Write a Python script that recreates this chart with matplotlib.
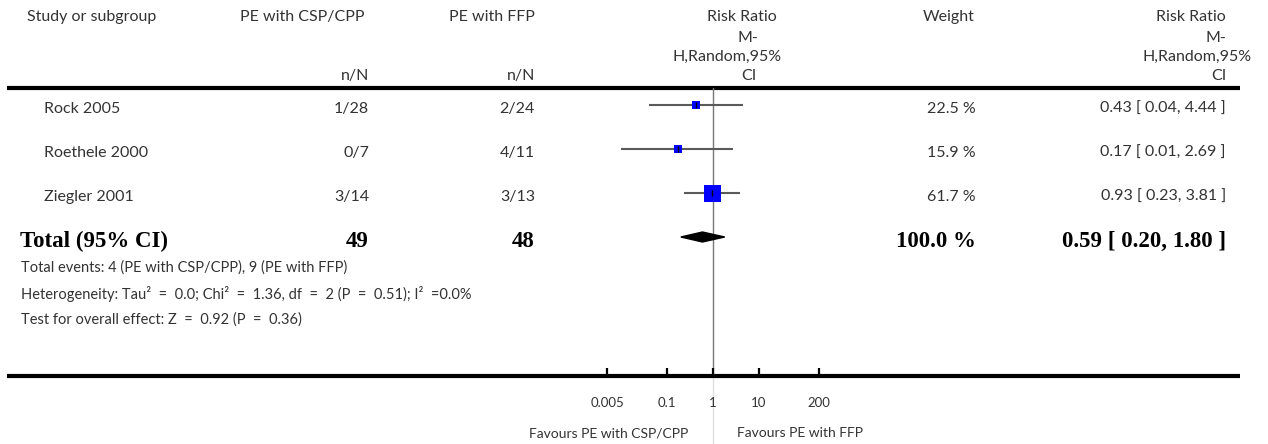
import matplotlib
matplotlib.use("Agg")
import matplotlib.pyplot as plt
import numpy as np
from matplotlib.patches import Polygon
from matplotlib.ticker import NullLocator, FixedLocator, FixedFormatter
from matplotlib.transforms import blended_transform_factory

# ---------------- data ----------------
studies = ["Rock 2005", "Roethele 2000", "Ziegler 2001"]
csp_events = ["1/28", "0/7", "3/14"]
ffp_events = ["2/24", "4/11", "3/13"]
rr = [0.43, 0.17, 0.93]
ci_low = [0.04, 0.01, 0.23]
ci_high = [4.44, 2.69, 3.81]
weights = [22.5, 15.9, 61.7]

total_label = "Total (95% CI)"
total_csp_n = 49
total_ffp_n = 48
total_rr = 0.59
total_low = 0.20
total_high = 1.80
total_weight = 100.0

footnotes = [
    "Total events: 4 (PE with CSP/CPP), 9 (PE with FFP)",
    "Heterogeneity: Tau\u00b2 = 0.0; Chi\u00b2 = 1.36, df = 2 (P = 0.51); I\u00b2 =0.0%",
    "Test for overall effect: Z = 0.92 (P = 0.36)",
]
tick_values = [0.005, 0.1, 1, 10, 200]
tick_labels = ["0.005", "0.1", "1", "10", "200"]
favours_left = "Favours PE with CSP/CPP"
favours_right = "Favours PE with FFP"

# ---------------- layout ----------------
W, H = 1268, 444
FONT = "Lato"
BOLD = "Liberation Serif"
TXT = "#333333"
FS = 11.5
row_top, row_h = 105, 44          # pixel y of first row (marks) and row spacing
txt_off = 4                       # text sits slightly below the marks
head_line, axis_line = 88, 376
ref_x, px_per_dec = 713, 46       # pixel x of RR=1, pixels per decade

fig = plt.figure(figsize=(W / 100, H / 100), dpi=100)
ov = fig.add_axes([0, 0, 1, 1])
ov.set_xlim(0, W)
ov.set_ylim(H, 0)
ov.axis("off")

# forest axes
fx0, fx1 = 560, 880
fa = fig.add_axes([fx0 / W, (H - axis_line) / H, (fx1 - fx0) / W, (axis_line - head_line) / H])
fa.set_xscale("log")
fa.set_xlim(10 ** ((fx0 - ref_x) / px_per_dec), 10 ** ((fx1 - ref_x) / px_per_dec))
fa.set_ylim((axis_line - row_top) / row_h, (head_line - row_top) / row_h)
for s in fa.spines.values():
    s.set_visible(False)
fa.patch.set_alpha(0)
fa.yaxis.set_visible(False)
fa.xaxis.set_major_locator(FixedLocator(tick_values))
fa.xaxis.set_major_formatter(FixedFormatter(tick_labels))
fa.xaxis.set_minor_locator(NullLocator())
fa.tick_params(axis="x", direction="in", length=6, width=1.6, color="black",
               pad=15, labelsize=9.5, labelcolor=TXT)
for lab in fa.get_xticklabels():
    lab.set_fontfamily(FONT)

# reference line
fa.axvline(1, color="#777777", lw=1.0, zorder=1)
tr = blended_transform_factory(fa.transData, ov.transData)
ov.plot([1, 1], [axis_line, H], transform=tr, color="#e0e0e0", lw=1.0, zorder=0)

# study rows
for i, (r, lo, hi, w) in enumerate(zip(rr, ci_low, ci_high, weights)):
    fa.plot([lo, hi], [i, i], color="#5a5a5a", lw=1.5, zorder=2, solid_capstyle="butt")
    side_px = max(8.0, 17.0 * w / max(weights))
    fa.plot([r], [i], marker="s", ms=side_px * 0.72, color="#0000ff",
            mec="#0000ff", mew=0, zorder=3, linestyle="none")
    fa.plot([r], [i], marker="|", ms=4, mew=1.0, color="black", zorder=4, linestyle="none")

# total diamond
ti = len(studies)
dh = 5.0 / row_h
fa.add_patch(Polygon([(total_low, ti), (total_rr, ti - dh), (total_high, ti), (total_rr, ti + dh)],
                     closed=True, color="black", zorder=3))

# lines
ov.plot([7, 1240], [head_line, head_line], color="black", lw=3.0, solid_capstyle="butt")
ov.plot([7, 1240], [axis_line, axis_line], color="black", lw=3.0, solid_capstyle="butt")

def t(x, y, s, ha="left", **kw):
    kw.setdefault("fontsize", FS)
    kw.setdefault("family", FONT)
    kw.setdefault("color", TXT)
    ov.text(x, y, s, ha=ha, va="center", **kw)

# headers
t(27, 17, "Study or subgroup")
t(302, 17, "PE with CSP/CPP", ha="center")
t(492, 17, "PE with FFP", ha="center")
t(369, 76, "n/N", ha="right")
t(535, 76, "n/N", ha="right")
t(742, 17, "Risk Ratio", ha="center")
t(748, 38, "M-", ha="center")
t(727, 57, "H,Random,95%", ha="center")
t(749, 76, "CI", ha="center")
t(949, 17, "Weight", ha="center")
t(1226, 17, "Risk Ratio", ha="right")
t(1226, 38, "M-", ha="right")
t(1252, 57, "H,Random,95%", ha="right")
t(1226, 76, "CI", ha="right")

# rows text
for i, name in enumerate(studies):
    y = row_top + i * row_h + txt_off
    t(44, y, name)
    t(369, y, csp_events[i], ha="right")
    t(535, y, ffp_events[i], ha="right")
    t(976, y, f"{weights[i]:.1f} %", ha="right")
    t(1226, y, f"{rr[i]:.2f} [ {ci_low[i]:.2f}, {ci_high[i]:.2f} ]", ha="right")

yt = row_top + ti * row_h + txt_off
bkw = dict(family=BOLD, fontweight="bold", fontsize=16.5, color="black")
t(20, yt, total_label, **bkw)
t(369, yt, f"{total_csp_n}", ha="right", **bkw)
t(535, yt, f"{total_ffp_n}", ha="right", **bkw)
t(976, yt, f"{total_weight:.1f} %", ha="right", **bkw)
t(1226, yt, f"{total_rr:.2f} [ {total_low:.2f}, {total_high:.2f} ]", ha="right", **bkw)

# the source typesets "=" with slightly wider surrounding space
for k, line in enumerate(footnotes):
    wide = line.replace(" = ", "  =  ").replace(" =0", "  =0")
    t(21, 268 + 26 * k, wide, fontsize=10.5)

t(688, 433, favours_left, ha="right", fontsize=10)
t(737, 433, favours_right, ha="left", fontsize=10)

fig.savefig("out.png", dpi=100)
